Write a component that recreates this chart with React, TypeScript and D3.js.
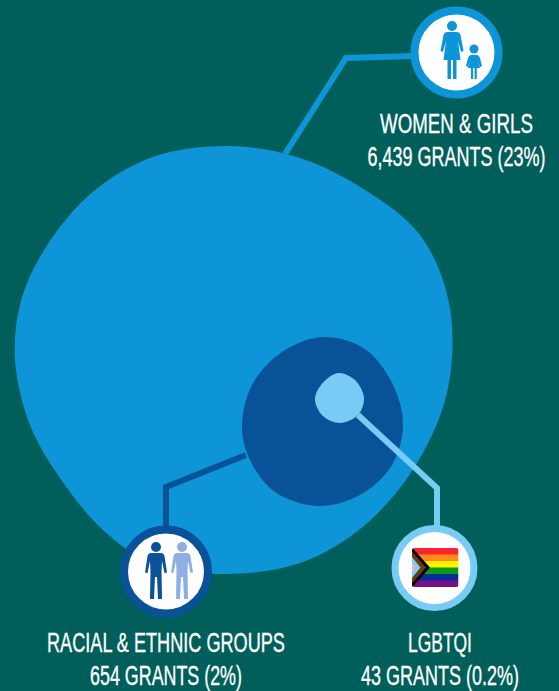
import { useEffect, useRef } from "react";
import * as d3 from "d3";

// grant counts per population group
const groups = ["WOMEN & GIRLS", "RACIAL & ETHNIC GROUPS", "LGBTQI"];
const grants = [6439, 654, 43];
const shares = ["23%", "2%", "0.2%"];

// hand traced outlines of the three blobs
const outerBlob: [number, number][] = [
  [227, 146], [300, 158], [365, 190], [420, 235], [449, 303], [448, 388], [417, 463],
  [365, 525], [300, 563], [220, 574], [150, 562], [103, 530], [60, 478], [30, 425],
  [15, 360], [20, 305], [40, 257], [87, 197], [150, 158],
];
const midBlob: [number, number][] = [
  [323, 337], [365, 349], [393, 385], [403, 425], [392, 465], [360, 495], [318, 506],
  [275, 492], [250, 460], [242, 427], [252, 385], [282, 352],
];
const smallBlob: [number, number][] = [
  [338, 373], [355, 380], [364, 398], [358, 415], [340, 423], [323, 416], [315, 400], [321, 385],
];

const flagStripes = ["#f8252c", "#ff8c1a", "#fff200", "#0a9c17", "#0a2a9a", "#75128a"];
const flagChevrons = [
  { x: 18, color: "#000000" },
  { x: 14, color: "#6b3a12" },
  { x: 8.5, color: "#7ccdf0" },
  { x: 3.5, color: "#f5aec8" },
];

const BG = "#005f5b";
const BLUE = "#0d95d8";
const DARK = "#0a5298";
const LIGHT = "#77cbf5";
const PERIWINKLE = "#8faee6";

const FONT = "'Liberation Sans Narrow', 'Liberation Sans', sans-serif";

const blobLine = d3.line().curve(d3.curveCatmullRomClosed.alpha(0.5));
const polyline = d3.line();

const personPath =
  "M-5,0 L5,0 Q7.5,0 8.5,3 L11,19.5 L8.5,20 L6,8 L5.5,18 L6,46 L2,46 L1,24 L-1,24 L-2,46 L-6,46 L-5.5,18 L-6,8 L-8.5,20 L-11,19.5 L-8.5,3 Q-7.5,0 -5,0Z";

const flag = { x: 412, y: 548, w: 46.5, h: 39 };
const stripeY = d3.scaleBand<number>().domain(d3.range(flagStripes.length)).range([0, flag.h]);

// The font has no condensed cut as narrow as the original, so squeeze to the measured width
function FitText({ x, y, width, children }: { x: number; y: number; width: number; children: string }) {
  const ref = useRef<SVGTextElement>(null);

  useEffect(() => {
    const node = ref.current!;
    const scale = width / node.getComputedTextLength();
    d3.select(node).attr("transform", `translate(${x},${y}) scale(${scale},1)`);
  }, [x, y, width, children]);

  return (
    <text ref={ref} transform={`translate(${x},${y})`}>
      {children}
    </text>
  );
}

function Label({ i, x, y, w1, w2 }: { i: number; x: number; y: number; w1: number; w2: number }) {
  return (
    <g fill="#fff" stroke="#fff" strokeWidth={0.35} textAnchor="middle" fontFamily={FONT} fontSize={28.5}>
      <FitText x={x} y={y} width={w1}>
        {groups[i]}
      </FitText>
      <FitText x={x} y={y + 33} width={w2}>
        {`${d3.format(",")(grants[i])} GRANTS (${shares[i]})`}
      </FitText>
    </g>
  );
}

export default function App() {
  return (
    <svg
      width={559}
      height={691}
      viewBox="0 0 559 691"
      style={{ position: "absolute", left: 0, top: 0, display: "block" }}
    >
      <rect width={559} height={691} fill={BG} />

      <path d={blobLine(outerBlob)!} fill={BLUE} />
      <path d={blobLine(midBlob)!} fill={DARK} />
      <path d={blobLine(smallBlob)!} fill={LIGHT} />

      {/* connectors */}
      <g fill="none" strokeWidth={6}>
        <path d={polyline([[285, 154], [346, 58], [414, 56]])!} stroke={BLUE} />
        <path d={polyline([[246, 455], [166, 487], [166, 530]])!} stroke={DARK} />
        <path d={polyline([[358, 415], [437, 488], [437, 530]])!} stroke={LIGHT} />
      </g>

      {/* women & girls badge */}
      <circle cx={456.5} cy={52.5} r={42} fill="#fff" stroke={BLUE} strokeWidth={8} />
      <g fill={BLUE}>
        <circle cx={452} cy={26} r={5} />
        <path d="M447,32 L457,32 Q459.5,32 460.5,35 L463.5,51 L461,52 L458,41 L460.5,60 L456.5,60 L456.5,79 L453,79 L453,60 L451,60 L451,79 L447.5,79 L447.5,60 L443.5,60 L446,41 L443,52 L440.5,51 L443.5,35 Q444.5,32 447,32Z" />
        <circle cx={474} cy={49} r={4.5} />
        <path d="M471,55 L477,55 Q479,55 480,58 L482,66 L480,67 L477.5,60 L480,68 L476.8,68 L476.8,79 L474.6,79 L474.6,68 L473.2,68 L473.2,79 L471,79 L471,68 L468,68 L470.5,60 L468,67 L466,66 L468,58 Q469,55 471,55Z" />
      </g>

      {/* racial & ethnic badge */}
      <circle cx={166} cy={571.5} r={42} fill="#fff" stroke={DARK} strokeWidth={8} />
      {[
        { x: 156, color: DARK },
        { x: 182, color: PERIWINKLE },
      ].map((p) => (
        <g key={p.x} transform={`translate(${p.x},553)`} fill={p.color}>
          <circle cy={-6} r={5} />
          <path d={personPath} />
        </g>
      ))}

      {/* lgbtqi badge */}
      <circle cx={434.5} cy={568} r={39.5} fill="#fff" stroke={LIGHT} strokeWidth={7} />
      <clipPath id="flag-clip">
        <rect width={flag.w} height={flag.h} rx={2.5} />
      </clipPath>
      <g transform={`translate(${flag.x},${flag.y})`} clipPath="url(#flag-clip)">
        {flagStripes.map((c, i) => (
          <rect key={c} y={stripeY(i)} width={flag.w} height={stripeY.bandwidth() + 0.5} fill={c} />
        ))}
        {flagChevrons.map((c) => (
          <path
            key={c.color}
            d={polyline([[0, flag.h / 2 - c.x - 2], [c.x, flag.h / 2], [0, flag.h / 2 + c.x + 2]])! + "Z"}
            fill={c.color}
          />
        ))}
      </g>

      <Label i={0} x={456.5} y={132.5} w1={153} w2={178} />
      <Label i={1} x={166} y={652} w1={238} w2={152} />
      <Label i={2} x={440} y={652} w1={64} w2={158} />
    </svg>
  );
}
